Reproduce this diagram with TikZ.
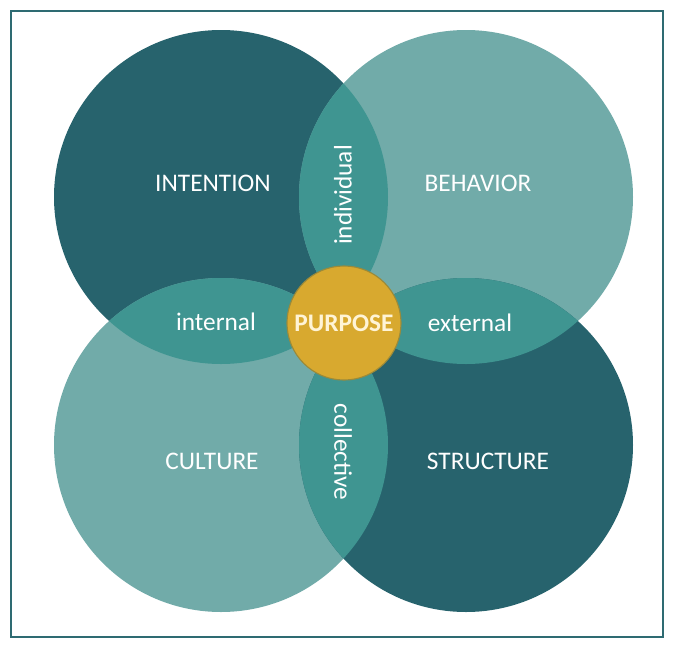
\documentclass[tikz,border=0pt]{standalone}
\usepackage{fontspec}
\setmainfont{Carlito}
\usepackage{xcolor}
\usepackage{tikz}

\definecolor{DeepTeal}{HTML}{27636D}
\definecolor{PaleTeal}{HTML}{71ABA9}
\definecolor{MidTeal}{HTML}{3F9591}
\definecolor{Mustard}{HTML}{D8A92F}
\definecolor{MustardEdge}{HTML}{9A8A3A}
\definecolor{FrameTeal}{HTML}{2E6B72}
\definecolor{Cream}{HTML}{FFF4D6}

\tikzset{
  quadtext/.style={text=white,font=\fontsize{18}{20}\selectfont},
  lenstext/.style={text=white,font=\fontsize{18}{20}\selectfont}
}

\begin{document}
\begin{tikzpicture}[x=0.025cm,y=-0.025cm]
  \useasboundingbox (0,0) rectangle (699,653);
  \draw[FrameTeal,line width=1.4pt] (11,11) rectangle (663,637);

  % the four circles
  \fill[DeepTeal] (221,197) circle (167);
  \fill[PaleTeal] (466,197) circle (167);
  \fill[PaleTeal] (221,445) circle (167);
  \fill[DeepTeal] (466,445) circle (167);

  % overlaps
  \begin{scope}
    \clip (221,197) circle (167);
    \fill[MidTeal] (466,197) circle (167);
    \fill[MidTeal] (221,445) circle (167);
  \end{scope}
  \begin{scope}
    \clip (466,445) circle (167);
    \fill[MidTeal] (466,197) circle (167);
    \fill[MidTeal] (221,445) circle (167);
  \end{scope}

  \node[quadtext] (intention) at (213,183) {INTENTION};
  \node[quadtext] (behavior)  at (478,183) {BEHAVIOR};
  \node[quadtext] (culture)   at (212,461) {CULTURE};
  \node[quadtext] (structure) at (488,461) {STRUCTURE};

  \node[lenstext] (internal)   at (216,322) {internal};
  \node[lenstext] (external)   at (470,323) {external};
  \node[lenstext,rotate=90]  (individual) at (343,195) {individual};
  \node[lenstext,rotate=-90] (collective) at (343,452) {collective};

  \node[circle,fill=Mustard,draw=MustardEdge,line width=0.8pt,minimum size=2.85cm,inner sep=0pt,
        text=Cream,font=\fontsize{18}{20}\selectfont\bfseries] (purpose) at (344,323) {PURPOSE};
\end{tikzpicture}
\end{document}
